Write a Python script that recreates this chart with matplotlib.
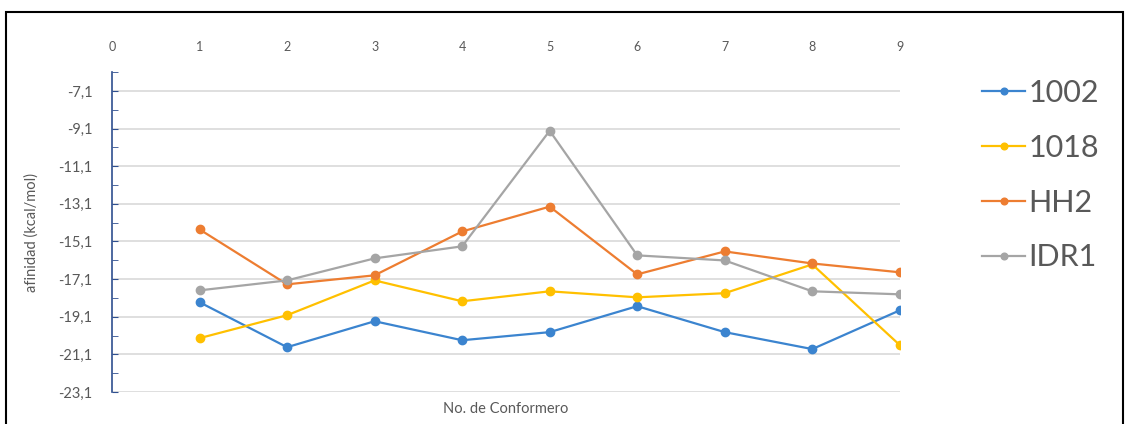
import matplotlib.pyplot as plt
from matplotlib.patches import Rectangle
from matplotlib.ticker import MultipleLocator, FixedLocator

plt.rcParams['font.family'] = ['Lato', 'DejaVu Sans']

# Datos
conformeros = [1, 2, 3, 4, 5, 6, 7, 8, 9]
afin_1002 = [-18.33, -20.72, -19.34, -20.35, -19.92, -18.54, -19.92, -20.82, -18.76]
afin_1018 = [-20.24, -19.02, -17.17, -18.28, -17.75, -18.07, -17.85, -16.32, -20.61]
afin_hh2 = [-14.46, -17.38, -16.90, -14.57, -13.25, -16.85, -15.63, -16.27, -16.74]
afin_idr1 = [-17.70, -17.17, -16.00, -15.36, -9.22, -15.84, -16.11, -17.75, -17.91]

series = ["1002", "1018", "HH2", "IDR1"]
colors = ["#3B84CF", "#FFC000", "#ED7D31", "#A5A5A5"]

y_ticks = [-23.1, -21.1, -19.1, -17.1, -15.1, -13.1, -11.1, -9.1, -7.1]

fig = plt.figure(figsize=(11.29, 4.24), dpi=100)
ax = fig.add_axes([0.0992, 0.0755, 0.6978, 0.7545])

for nombre, valores, c in zip(series, [afin_1002, afin_1018, afin_hh2, afin_idr1], colors):
    ax.plot(conformeros, valores, color=c, lw=1.6, marker="o", ms=6, label=nombre)

ax.set_xlim(0, 9)
ax.set_ylim(-23.1, -6.1)
ax.xaxis.set_major_locator(MultipleLocator(1))
ax.yaxis.set_major_locator(FixedLocator(y_ticks))
ax.yaxis.set_minor_locator(FixedLocator([v + 1 for v in y_ticks]))
ax.set_yticklabels([("%.1f" % v).replace(".", ",") for v in y_ticks])

ax.xaxis.tick_top()
ax.tick_params(axis="x", length=0, pad=14, labelsize=9, labelcolor="#595959")
ax.tick_params(axis="y", which="both", direction="in", color="#2F4F8F",
               labelsize=10.5, labelcolor="#595959", pad=14)
ax.tick_params(axis="y", which="major", length=4)
ax.tick_params(axis="y", which="minor", length=4)

for s in ["top", "right", "bottom"]:
    ax.spines[s].set_visible(False)
ax.spines["left"].set_color("#2F4F8F")
ax.spines["left"].set_linewidth(1.2)

ax.grid(axis="y", color="#D9D9D9", lw=1.2)
ax.set_axisbelow(True)

ax.set_ylabel("afinidad (kcal/mol)", fontsize=10.5, color="#595959", labelpad=14)
fig.text(0.448, 0.035, "No. de Conformero", fontsize=10.5, color="#595959",
         ha="center", va="center")

ax.legend(loc="upper left", bbox_to_anchor=(1.07, 1.065), frameon=False,
          fontsize=22, labelcolor="#595959", handlelength=1.4, handletextpad=0.1,
          labelspacing=0.88, markerscale=0.8)

fig.patches.append(Rectangle((0.005, -0.01), 0.99, 0.982, transform=fig.transFigure,
                             fill=False, edgecolor="black", lw=1.5))

fig.savefig("out.png", dpi=100)
